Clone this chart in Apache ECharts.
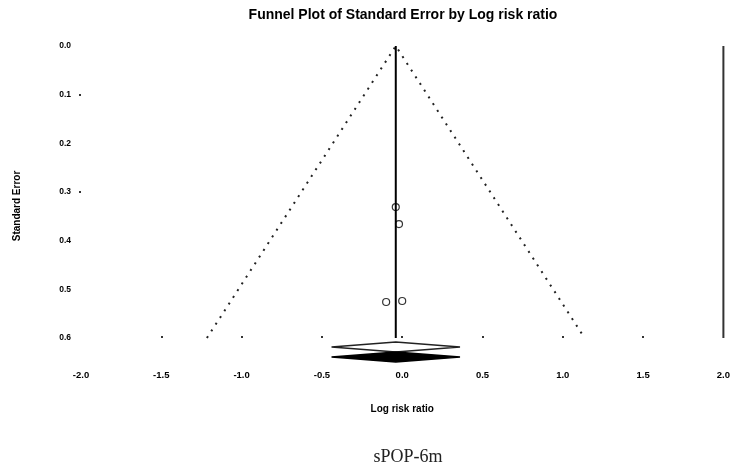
<!DOCTYPE html>
<html>
<head>
<meta charset="utf-8">
<script src="https://cdn.jsdelivr.net/npm/echarts@6/dist/echarts.min.js"></script>
<style>
  html, body { margin: 0; padding: 0; background: #fff; }
  #chart { width: 733px; height: 465px; }
</style>
</head>
<body>
<div id="chart"></div>
<script>
// Individual studies: log risk ratio and its standard error
const studyLogRR = [-0.04, -0.02, -0.10, 0.00];
const studySE = [0.331, 0.366, 0.526, 0.524];

// Pooled estimate: [lower 95% limit, point estimate, upper 95% limit]
const pooledEffect = [-0.44, -0.04, 0.36];

// Axis extents and ticks
const seMax = 0.6;
const xTickValues = [-2.0, -1.5, -1.0, -0.5, 0.0, 0.5, 1.0, 1.5, 2.0];
const xMarkValues = [-1.5, -1.0, -0.5, 0.0, 0.5, 1.0, 1.5];
const yTickValues = [0.0, 0.1, 0.2, 0.3, 0.4, 0.5, 0.6];
const yMarkValues = [0.1, 0.3];
const frameX = 2.0;

const chart = echarts.init(document.getElementById('chart'), null, { renderer: 'canvas' });

const mean = pooledEffect[1];
// 95% pseudo-confidence funnel around the pooled estimate
const funnel = [
  [mean - 1.96 * seMax, seMax],
  [mean, 0],
  [mean + 1.96 * seMax, seMax]
];

const labelFont = size => ({ fontFamily: 'Liberation Sans', fontSize: size, fontWeight: 'bold', color: '#000' });

chart.setOption({
  animation: false,
  backgroundColor: '#fff',
  grid: { left: 81, right: 6, top: 46, bottom: 127 },
  xAxis: {
    type: 'value',
    min: xTickValues[0],
    max: xTickValues[xTickValues.length - 1],
    interval: 0.5,
    axisLine: { show: false, onZero: false },
    splitLine: { show: false },
    axisTick: {
      show: true, inside: true, length: 2,
      customValues: xMarkValues,
      lineStyle: { color: '#333', width: 2 }
    },
    axisLabel: Object.assign({
      margin: 32,
      customValues: xTickValues,
      formatter: v => v.toFixed(1)
    }, labelFont(9.5)),
    name: 'Log risk ratio',
    nameLocation: 'middle',
    nameGap: 66,
    nameTextStyle: labelFont(10)
  },
  yAxis: {
    type: 'value',
    inverse: true,
    min: 0,
    max: seMax,
    interval: 0.1,
    axisLine: { show: false, onZero: false },
    splitLine: { show: false },
    axisTick: {
      show: true, length: 2,
      customValues: yMarkValues,
      lineStyle: { color: '#333', width: 2 }
    },
    axisLabel: Object.assign({
      margin: 10,
      customValues: yTickValues,
      formatter: v => v.toFixed(1)
    }, labelFont(8.5))
  },
  graphic: [
    {
      type: 'text', x: 403, y: 15,
      style: {
        text: 'Funnel Plot of Standard Error by Log risk ratio',
        align: 'center', verticalAlign: 'middle',
        font: 'bold 14px "Liberation Sans"', fill: '#000'
      }
    },
    {
      type: 'text', x: 17, y: 206, rotation: Math.PI / 2,
      style: {
        text: 'Standard Error',
        align: 'center', verticalAlign: 'middle',
        font: 'bold 10px "Liberation Sans"', fill: '#000'
      }
    },
    {
      type: 'text', x: 408, y: 457,
      style: {
        text: 'sPOP-6m',
        align: 'center', verticalAlign: 'middle',
        font: '18px "Liberation Serif"', fill: '#222'
      }
    }
  ],
  series: [
    {
      name: 'funnel',
      type: 'line',
      data: funnel,
      symbol: 'none',
      silent: true,
      lineStyle: { color: '#222', width: 2, type: [2, 6] }
    },
    {
      name: 'pooled',
      type: 'line',
      data: [[mean, 0], [mean, seMax]],
      symbol: 'none',
      silent: true,
      lineStyle: { color: '#000', width: 2 }
    },
    {
      name: 'frame',
      type: 'line',
      data: [[frameX, 0], [frameX, seMax]],
      symbol: 'none',
      silent: true,
      lineStyle: { color: '#333', width: 2 }
    },
    {
      name: 'studies',
      type: 'scatter',
      data: studyLogRR.map((x, i) => [x, studySE[i]]),
      symbol: 'circle',
      symbolSize: 7,
      itemStyle: { color: 'rgba(0,0,0,0)', borderColor: '#000', borderWidth: 1.2 }
    },
    {
      name: 'summary',
      type: 'custom',
      clip: false,
      data: [pooledEffect],
      renderItem: function (params, api) {
        const lo = api.coord([api.value(0), seMax]);
        const mid = api.coord([api.value(1), seMax]);
        const hi = api.coord([api.value(2), seMax]);
        const base = mid[1];
        const diamond = (cy, h) => [
          [lo[0], cy], [mid[0], cy - h], [hi[0], cy], [mid[0], cy + h]
        ];
        return {
          type: 'group',
          children: [
            {
              type: 'polygon',
              shape: { points: diamond(base + 9, 5) },
              style: { fill: 'none', stroke: '#222', lineWidth: 1.5 }
            },
            {
              type: 'polygon',
              shape: { points: diamond(base + 19, 5) },
              style: { fill: '#000', stroke: '#000', lineWidth: 1.5 }
            }
          ]
        };
      }
    }
  ]
});
</script>
</body>
</html>
